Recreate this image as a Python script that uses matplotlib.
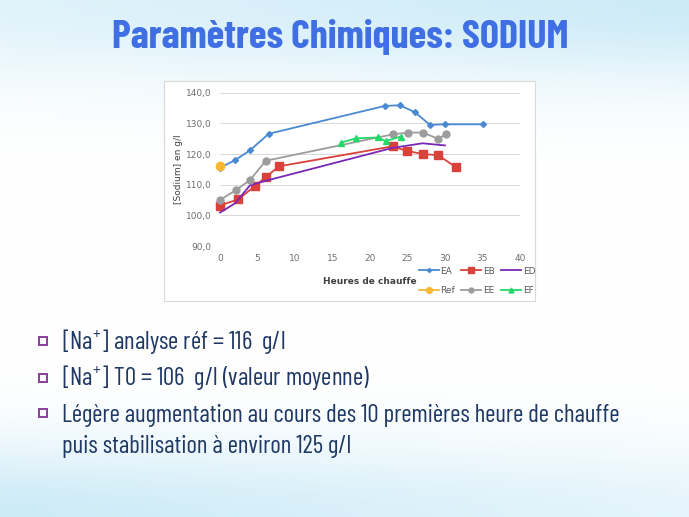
import matplotlib
matplotlib.use("Agg")
import matplotlib.pyplot as plt
from matplotlib.patches import Rectangle
import numpy as np

ea_x = [0, 2, 4, 6.5, 22, 24, 26, 28, 30, 35]
ea_y = [115.5, 118.0, 121.2, 126.6, 135.7, 135.9, 133.6, 129.5, 129.7, 129.7]
eb_x = [0, 2.4, 4.7, 6.1, 7.9, 23, 24.9, 27.1, 29.1, 31.4]
eb_y = [103.2, 105.2, 109.6, 112.5, 116.0, 122.5, 121.0, 120.0, 119.6, 115.8]
ed_x = [0, 2, 4, 6, 23, 27, 30]
ed_y = [100.9, 103.9, 109.8, 111.2, 122.0, 123.5, 122.8]
ee_x = [0, 2.1, 4, 6.1, 23, 25.1, 27.1, 29.1, 30.1]
ee_y = [105.0, 108.2, 111.5, 117.8, 126.4, 127.0, 127.0, 124.9, 126.5]
ef_x = [16.1, 18.1, 21.1, 22.1, 24.1]
ef_y = [123.7, 125.1, 125.4, 124.2, 125.7]
ref_x = [0]
ref_y = [116.0]

title = "Paramètres Chimiques: SODIUM"
bullets = [
    "[Na$^{+}$] analyse réf = 116  g/l",
    "[Na$^{+}$] T0 = 106  g/l (valeur moyenne)",
    "Légère augmentation au cours des 10 premières heure de chauffe\npuis stabilisation à environ 125 g/l",
]

narrow = ["Barlow Condensed", "DejaVu Sans"]
plt.rcParams["mathtext.fontset"] = "custom"
plt.rcParams["mathtext.rm"] = "Barlow Condensed"
W, H = 689, 517
fig = plt.figure(figsize=(W / 100, H / 100), dpi=100)

# slide background
bg = fig.add_axes([0, 0, 1, 1])
yy = np.linspace(0, 1, 300)[:, None]
xx = np.linspace(0, 1, 300)[None, :]
top = np.exp(-((yy - 0.0) / 0.16) ** 2) * (0.6 + 0.4 * xx)
bot = np.exp(-((yy - 1.0) / 0.14) ** 2) * (0.5 + 0.5 * (1 - xx))
t = np.clip(top + bot, 0, 1)
c_white = np.array([1.0, 1.0, 1.0])
c_blue = np.array([0.80, 0.92, 0.97])
img = c_white[None, None, :] * (1 - t[..., None]) + c_blue[None, None, :] * t[..., None]
bg.imshow(img, extent=[0, 1, 0, 1], aspect="auto", origin="upper")
bg.set_xlim(0, 1)
bg.set_ylim(0, 1)
bg.axis("off")

def fx(px):
    return px / W

def fy(py):
    return 1 - py / H

bg.text(fx(340), fy(37), title, ha="center", va="center", fontsize=29,
        fontweight="bold", color="#3f6fe2", family=narrow)

# chart box
bg.add_patch(Rectangle((fx(164), fy(301)), fx(535) - fx(164), fy(81) - fy(301),
                       facecolor="white", edgecolor="#d9d9d9", lw=0.8))

ax = fig.add_axes([fx(220), fy(246), fx(520) - fx(220), fy(92.7) - fy(246)])
ax.set_facecolor("white")
ax.set_xlim(0, 40)
ax.set_ylim(90, 140)
ax.set_xticks(np.arange(0, 41, 5))
ax.set_yticks(np.arange(90, 141, 10))
ax.set_yticklabels([f"{v:.1f}".replace(".", ",") for v in np.arange(90, 141, 10)])
ax.grid(axis="y", color="#d9d9d9", lw=0.7)
ax.set_axisbelow(True)
for s in ax.spines.values():
    s.set_visible(False)
ax.tick_params(length=0, labelsize=6.5, labelcolor="#6f6f6f", pad=6)
ax.set_xlabel("Heures de chauffe", fontsize=6.5, fontweight="bold", color="#404040", labelpad=10)
ax.set_ylabel("[Sodium] en g/l", fontsize=6.5, color="#404040", labelpad=2)

ax.plot(ea_x, ea_y, color="#4a89d2", marker="D", ms=3, lw=1.3, label="EA", clip_on=False)
ax.plot(eb_x, eb_y, color="#d9413a", marker="s", ms=6, lw=1.3, label="EB", clip_on=False)
ax.plot(ed_x, ed_y, color="#7a28b8", lw=1.3, label="ED", clip_on=False)
ax.plot(ee_x, ee_y, color="#9c9c9c", marker="o", ms=5, lw=1.3, label="EE", clip_on=False)
ax.plot(ef_x, ef_y, color="#22d96a", marker="^", ms=5, lw=1.3, label="EF", clip_on=False)
ax.plot(ref_x, ref_y, color="#f7b731", marker="o", ms=6, lw=1.3, label="Ref", clip_on=False)

h, l = ax.get_legend_handles_labels()
order = ["EA", "Ref", "EB", "EE", "ED", "EF"]
hs = [h[l.index(k)] for k in order]
fig.legend(hs, order, loc="center", bbox_to_anchor=(fx(477), fy(281)), ncol=3,
           frameon=False, fontsize=6.5, labelcolor="#595959", handlelength=2.2,
           handletextpad=0.2, columnspacing=0.7, labelspacing=1.2, markerscale=0.7)

# bullets
ys = [341, 378, 413]
for y, txt in zip(ys, bullets):
    bg.add_patch(Rectangle((fx(39), fy(y + 4)), fx(8), fy(0) - fy(8), facecolor="none",
                           edgecolor="#8c3c9c", lw=1.4))
    bg.text(fx(62), fy(y - 9) if "\n" in txt else fy(y), txt, ha="left",
            va="top" if "\n" in txt else "center",
            fontsize=18, color="#1f3864", family=narrow, linespacing=1.45)

fig.savefig("out.png", dpi=100)
